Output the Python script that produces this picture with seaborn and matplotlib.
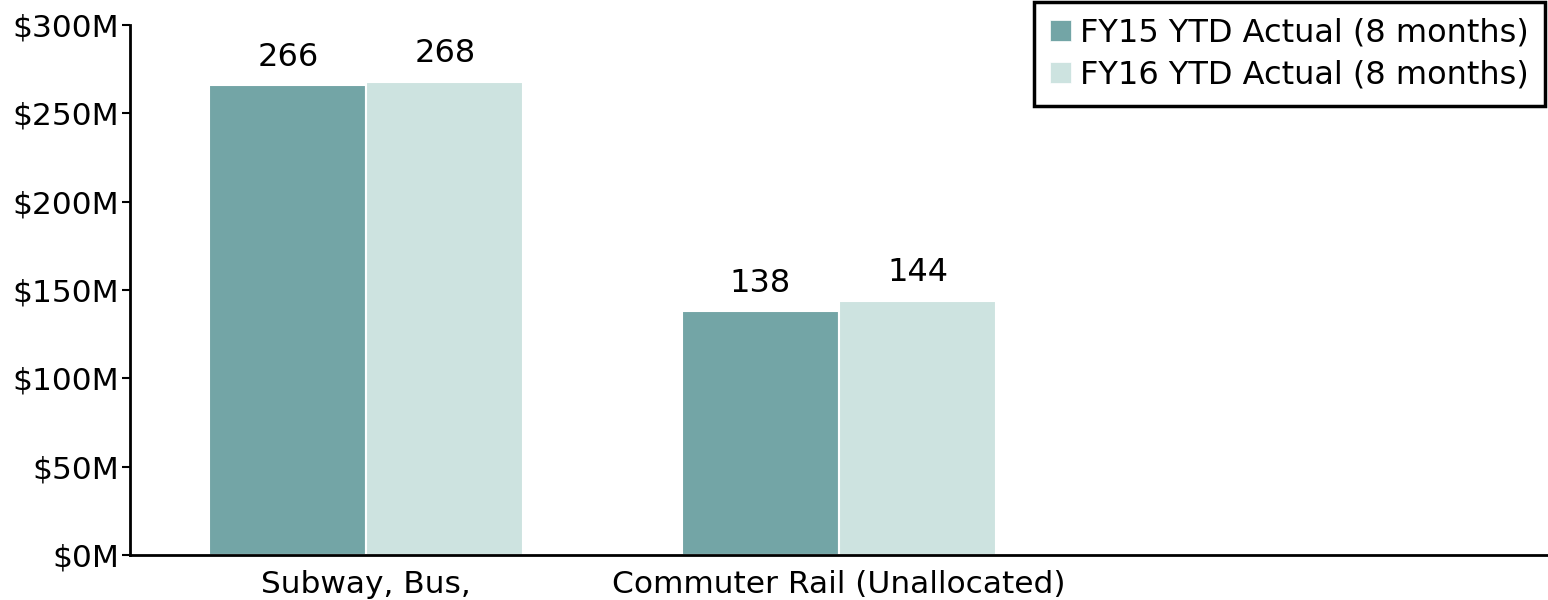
import pandas as pd
import seaborn as sns
import matplotlib.pyplot as plt
from matplotlib.patches import Patch

# data ($M)
categories = ["Subway, Bus,", "Commuter Rail (Unallocated)"]
series = ["FY15 YTD Actual (8 months)", "FY16 YTD Actual (8 months)"]
fy15 = [266, 138]
fy16 = [268, 144]
yticks = [0, 50, 100, 150, 200, 250, 300]

colors = ["#73a5a6", "#cde3e0"]

df = pd.DataFrame({
    "category": categories * 2,
    "series": [series[0]] * len(categories) + [series[1]] * len(categories),
    "value": fy15 + fy16,
})

sns.set_style("white")
plt.rcParams['font.family'] = ['DejaVu Sans']
plt.rcParams['text.color'] = 'black'
plt.rcParams['xtick.color'] = 'black'
plt.rcParams['ytick.color'] = 'black'

fig = plt.figure(figsize=(15.48, 6), dpi=100)
ax = fig.add_axes([130 / 1548, 45 / 600, 1 - 130 / 1548, 530 / 600])

sns.barplot(data=df, x="category", y="value", hue="series", hue_order=series,
            order=categories, palette=colors, width=0.665, saturation=1,
            edgecolor="white", linewidth=1.5, ax=ax)

for cont in ax.containers:
    ax.bar_label(cont, fmt="%d", padding=9, fontsize=23, color="black")

ax.set_xlim(-0.5, 2.5)
ax.set_ylim(0, 300)
ax.set_yticks(yticks)
ax.set_yticklabels([f"${v}M" for v in yticks], fontsize=22.5)
ax.tick_params(axis="y", direction="out", length=6, width=1.5, color="black", pad=2, left=True)
ax.tick_params(axis="x", length=0, pad=11, labelsize=22.5)
ax.set_xlabel("")
ax.set_ylabel("")

for s in ["top", "right"]:
    ax.spines[s].set_visible(False)
for s in ["left", "bottom"]:
    ax.spines[s].set_color("black")
    ax.spines[s].set_linewidth(2)

ax.get_legend().remove()
handles = [Patch(facecolor=c, edgecolor="white", linewidth=0.5) for c in colors]
leg = fig.legend(handles, series, loc="upper right",
                 bbox_to_anchor=(1545 / 1548, 1 - 2 / 600), borderaxespad=0,
                 fontsize=23, frameon=True, fancybox=False, framealpha=1,
                 handlelength=0.65, handleheight=0.65, handletextpad=0.3,
                 labelspacing=0.33, borderpad=0.5)
leg.get_frame().set_edgecolor("black")
leg.get_frame().set_linewidth(2.5)

fig.savefig("out.png", dpi=100)
